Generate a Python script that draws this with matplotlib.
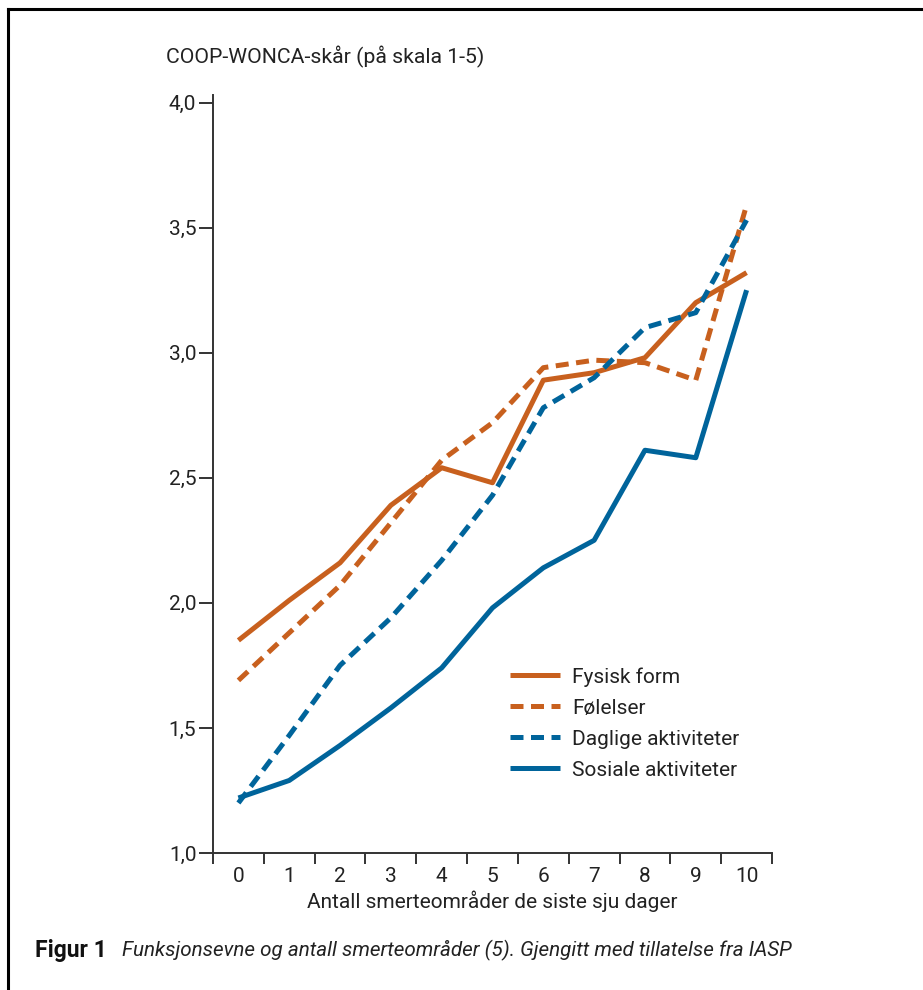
import matplotlib.pyplot as plt
from matplotlib.lines import Line2D
import numpy as np

# values (COOP-WONCA score, scale 1-5)
antall = list(range(11))
fysisk_form = [1.85, 2.01, 2.16, 2.39, 2.54, 2.48, 2.89, 2.92, 2.98, 3.20, 3.32]
folelser = [1.69, 1.88, 2.07, 2.32, 2.57, 2.72, 2.94, 2.97, 2.96, 2.89, 3.59]
daglige = [1.20, 1.47, 1.75, 1.94, 2.17, 2.43, 2.78, 2.90, 3.10, 3.16, 3.53]
sosiale = [1.22, 1.29, 1.43, 1.58, 1.74, 1.98, 2.14, 2.25, 2.61, 2.58, 3.25]
labels = ['Fysisk form', 'Følelser', 'Daglige aktiviteter', 'Sosiale aktiviteter']
y_ticks = [1.0, 1.5, 2.0, 2.5, 3.0, 3.5, 4.0]

orange = '#C8601E'
blue = '#00649B'
axis_col = '#333333'
txt_col = '#222222'
fs = 15

plt.rcParams['font.family'] = ['Roboto', 'DejaVu Sans']

fig = plt.figure(figsize=(9.23, 9.90), dpi=100)
ax = fig.add_axes([213 / 923, 1 - 853 / 990, 559 / 923, 758 / 990])

lw = 3.6
ax.plot(antall, fysisk_form, color=orange, lw=lw, solid_capstyle='butt', label=labels[0])
ax.plot(antall, folelser, color=orange, lw=lw, dashes=(2.6, 1.5), dash_capstyle='butt', label=labels[1])
ax.plot(antall, daglige, color=blue, lw=lw, dashes=(2.6, 1.5), dash_capstyle='butt', label=labels[2])
ax.plot(antall, sosiale, color=blue, lw=lw, solid_capstyle='butt', label=labels[3])

ax.set_xlim(-0.5, 10.5)
ax.set_ylim(1.0, 4.03)

for s in ['top', 'right']:
    ax.spines[s].set_visible(False)
for s in ['left', 'bottom']:
    ax.spines[s].set_color(axis_col)
    ax.spines[s].set_linewidth(1.4)

ax.set_xticks(antall)
ax.set_xticks(np.arange(-0.5, 11, 1), minor=True)
ax.tick_params(axis='x', which='major', length=0, pad=10, labelsize=fs, labelcolor=txt_col)
ax.tick_params(axis='x', which='minor', length=8, width=1.4, color=axis_col, direction='out')
ax.set_yticks(y_ticks)
ax.set_yticklabels([f'{v:.1f}'.replace('.', ',') for v in y_ticks])
ax.tick_params(axis='y', length=10, width=1.4, color=axis_col, pad=2, labelsize=fs, labelcolor=txt_col)

ax.set_xlabel('Antall smerteområder de siste sju dager', fontsize=fs, color=txt_col, labelpad=3)
fig.text(166 / 923, 1 - 57 / 990, 'COOP-WONCA-skår (på skala 1-5)', fontsize=15.3,
         color=txt_col, va='center', ha='left')

fig.legend(loc='upper left', bbox_to_anchor=(510 / 923, 1 - 667 / 990), frameon=False,
           fontsize=fs, handlelength=2.4, handletextpad=0.6, labelspacing=0.58,
           borderpad=0, borderaxespad=0, labelcolor=txt_col)

# caption
fig.text(35 / 923, 1 - 950 / 990, 'Figur 1', fontsize=16.5, fontweight='bold',
         color='#111111', va='center', ha='left')
fig.text(122 / 923, 1 - 950 / 990,
         'Funksjonsevne og antall smerteområder (5). Gjengitt med tillatelse fra IASP',
         fontsize=14.9, style='italic', color=txt_col, va='center', ha='left')

# frame (left and top edges)
fig.add_artist(Line2D([8 / 923, 8 / 923], [0, 1 - 9 / 990], color='black', lw=2.2,
                      transform=fig.transFigure, solid_capstyle='projecting'))
fig.add_artist(Line2D([8 / 923, 1], [1 - 9 / 990, 1 - 9 / 990], color='black', lw=2.2,
                      transform=fig.transFigure, solid_capstyle='projecting'))

fig.savefig('out.png', dpi=100)
